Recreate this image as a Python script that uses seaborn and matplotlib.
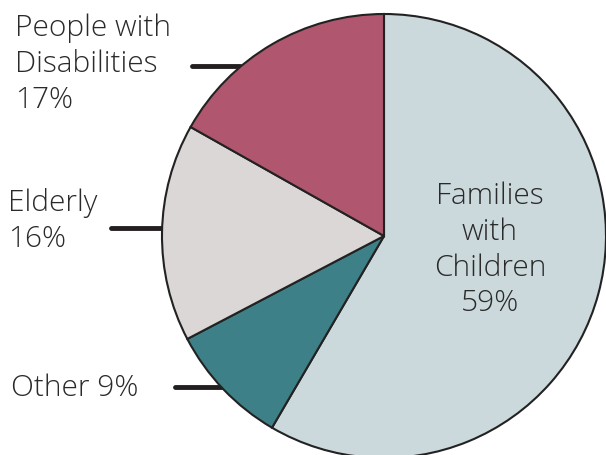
import matplotlib
matplotlib.use('Agg')
import matplotlib.pyplot as plt
import seaborn as sns
from matplotlib.lines import Line2D

# Share of households by group
groups = ['Families with Children', 'Other', 'Elderly', 'People with Disabilities']
shares = [59, 9, 16, 17]
colors = ['#cbd9dd', '#3e8088', '#dbd7d6', '#b0566e']

sns.set_theme(style='white')
plt.rcParams['font.family'] = ['Open Sans', 'DejaVu Sans']

W, H = 606, 455
fig = plt.figure(figsize=(W / 100, H / 100), dpi=100)

# pie centre around (384, 236) px, radius ~222 px
cx, cy, r = 384, 236, 222
ax = fig.add_axes([(cx - r) / W, (H - cy - r) / H, 2 * r / W, 2 * r / H])
ax.pie(shares, colors=colors, startangle=90, counterclock=False,
       wedgeprops=dict(edgecolor='#222222', linewidth=1.5))
ax.set_xlim(-1, 1)
ax.set_ylim(-1, 1)
ax.set_aspect('equal')
ax.axis('off')


def px(x, y):
    return x / W, 1 - y / H


txt = dict(fontsize=21.5, color='#2a2a2a', transform=fig.transFigure,
           linespacing=1.28, fontweight='light')

fig.text(*px(15, 64), 'People with\nDisabilities\n17%', ha='left', va='center', **txt)
fig.text(*px(8, 221), 'Elderly\n16%', ha='left', va='center', **txt)
fig.text(*px(11, 388), 'Other 9%', ha='left', va='center', **txt)
fig.text(*px(490, 250), 'Families\nwith\nChildren\n59%', ha='center', va='center', **txt)

# leader lines
for (x0, x1, y) in [(192, 240, 66), (111, 163, 228), (175, 222, 387)]:
    (fx0, fy), (fx1, _) = px(x0, y), px(x1, y)
    fig.add_artist(Line2D([fx0, fx1], [fy, fy], transform=fig.transFigure,
                          color='#231f20', linewidth=3.5, zorder=0))

fig.savefig('out.png', dpi=100, facecolor='white')
plt.close(fig)
